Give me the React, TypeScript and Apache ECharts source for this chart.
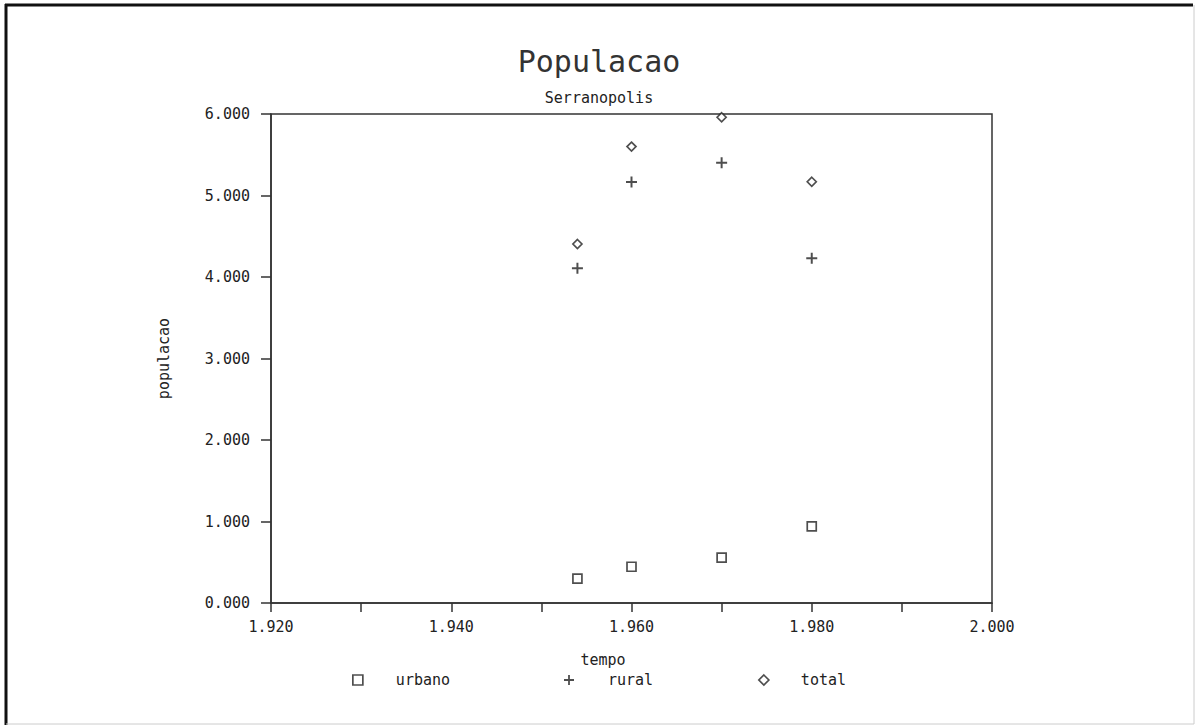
import React, { useEffect, useRef } from "react";
import * as echarts from "echarts";

const years = [1954, 1960, 1970, 1980];
const urbano = [300, 445, 556, 940];
const rural = [4107, 5166, 5403, 4229];
const total = [4405, 5600, 5960, 5169];
const seriesNames = ["urbano", "rural", "total"];

const FONT = "'DejaVu Sans Mono', monospace";
const INK = "#222";
const PLUS = "path://M0 4.1H10V5.9H0Z M4.1 0H5.9V10H4.1Z";

const fmt = (v: number) => {
  const th = Math.floor(v / 1000);
  const rest = Math.round(v % 1000);
  return th + "." + String(rest).padStart(3, "0");
};

const pairs = (vals: number[]) => years.map((y, i) => [y, vals[i]]);

export default function App() {
  const ref = useRef<HTMLDivElement>(null);
  useEffect(() => {
    if (!ref.current) return;
    const chart = echarts.init(ref.current, undefined, { renderer: "svg" });
    const hollow = { color: "#fff", borderColor: INK, borderWidth: 1.7 };
    const legendBase = {
      top: 667,
      itemWidth: 10,
      itemHeight: 10,
      selectedMode: false,
      textStyle: { fontFamily: FONT, fontSize: 15, color: INK, lineHeight: 16 },
    };
    chart.setOption({
      animation: false,
      backgroundColor: "#fff",
      title: {
        text: "Populacao",
        subtext: "Serranopolis",
        left: "center",
        top: 41,
        itemGap: 14,
        textStyle: { fontFamily: FONT, fontSize: 30, fontWeight: "normal", color: "#333" },
        subtextStyle: { fontFamily: FONT, fontSize: 15, color: INK },
      },
      grid: {
        left: 271,
        top: 114,
        width: 721,
        height: 489,
        show: true,
        borderColor: "#333",
        borderWidth: 1.5,
        backgroundColor: "transparent",
      },
      xAxis: {
        type: "value",
        min: 1920,
        max: 2000,
        interval: 10,
        name: "tempo",
        nameLocation: "middle",
        nameGap: 49,
        nameTextStyle: { fontFamily: FONT, fontSize: 15, color: INK, padding: [0, 57, 0, 0] },
        splitLine: { show: false },
        axisLine: { show: true, lineStyle: { color: "#333", width: 1.5 } },
        axisTick: { show: true, inside: false, length: 9, lineStyle: { color: "#333", width: 1.5 } },
        axisLabel: {
          margin: 16,
          fontFamily: FONT,
          fontSize: 15,
          color: INK,
          formatter: (v: number) => (v % 20 === 0 ? fmt(v) : ""),
        },
      },
      yAxis: {
        type: "value",
        min: 0,
        max: 6000,
        interval: 1000,
        name: "populacao",
        nameLocation: "middle",
        nameRotate: 90,
        nameGap: 100,
        nameTextStyle: { fontFamily: FONT, fontSize: 15, color: INK },
        splitLine: { show: false },
        axisLine: { show: true, lineStyle: { color: "#333", width: 1.5 } },
        axisTick: { show: true, inside: false, length: 10, lineStyle: { color: "#333", width: 1.5 } },
        axisLabel: { margin: 21, fontFamily: FONT, fontSize: 15, color: INK, formatter: fmt },
      },
      legend: [
        {
          ...legendBase,
          left: 347,
          data: [{ name: seriesNames[0], icon: "rect", itemStyle: hollow }],
          textStyle: { ...legendBase.textStyle, padding: [0, 0, 0, 28] },
        },
        {
          ...legendBase,
          left: 559,
          data: [{ name: seriesNames[1], icon: PLUS, itemStyle: { color: INK, borderWidth: 0 } }],
          textStyle: { ...legendBase.textStyle, padding: [0, 0, 0, 29] },
        },
        {
          ...legendBase,
          left: 753,
          data: [{ name: seriesNames[2], icon: "diamond", itemStyle: hollow }],
          textStyle: { ...legendBase.textStyle, padding: [0, 0, 0, 27] },
        },
      ],
      series: [
        {
          name: seriesNames[0],
          type: "scatter",
          symbol: "rect",
          symbolSize: 9,
          itemStyle: hollow,
          data: pairs(urbano),
        },
        {
          name: seriesNames[1],
          type: "scatter",
          symbol: PLUS,
          symbolSize: 11,
          itemStyle: { color: INK },
          data: pairs(rural),
        },
        {
          name: seriesNames[2],
          type: "scatter",
          symbol: "diamond",
          symbolSize: [9, 9],
          itemStyle: hollow,
          data: pairs(total),
        },
      ],
      graphic: [
        { type: "line", shape: { x1: 6, y1: 4, x2: 6, y2: 725 }, style: { stroke: "#111", lineWidth: 3 } },
        { type: "line", shape: { x1: 5, y1: 5, x2: 1193, y2: 5 }, style: { stroke: "#111", lineWidth: 3 } },
        { type: "line", shape: { x1: 1194, y1: 5, x2: 1194, y2: 724 }, style: { stroke: "#ccc", lineWidth: 1 } },
        { type: "line", shape: { x1: 6, y1: 724, x2: 1194, y2: 724 }, style: { stroke: "#ccc", lineWidth: 1 } },
      ],
    });
    return () => chart.dispose();
  }, []);
  return (
    <div
      ref={ref}
      style={{ position: "absolute", left: 0, top: 0, width: 1198, height: 727 }}
    />
  );
}
